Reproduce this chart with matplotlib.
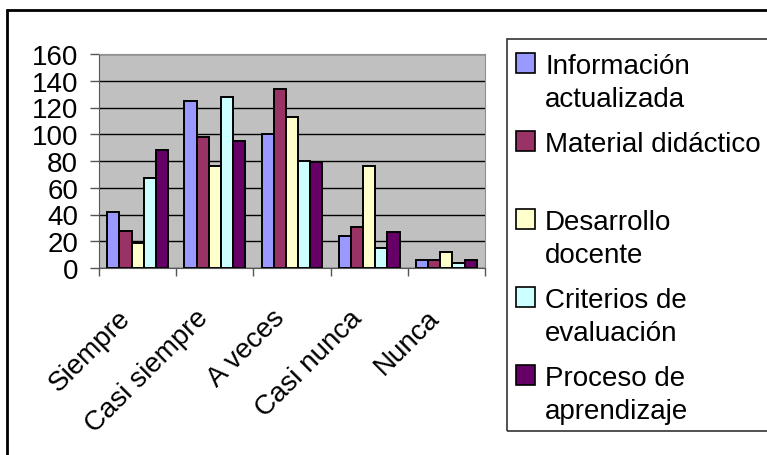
import matplotlib
matplotlib.use("Agg")
import matplotlib.pyplot as plt
import matplotlib.transforms as mtransforms
import numpy as np
from matplotlib.patches import Rectangle

plt.rcParams['font.family'] = ['Liberation Sans', 'DejaVu Sans']

categories = ["Siempre", "Casi siempre", "A veces", "Casi nunca", "Nunca"]
series_names = ["Información\nactualizada", "Material didáctico\n", "Desarrollo\ndocente",
                "Criterios de\nevaluación", "Proceso de\naprendizaje"]
informacion = [42, 125, 100, 24, 6]
material = [28, 98, 134, 31, 6]
desarrollo = [19, 76, 113, 76, 12]
criterios = [67, 128, 80, 15, 4]
proceso = [88, 95, 79, 27, 6]
colors = ["#9999FF", "#993366", "#FFFFCC", "#CCFFFF", "#660066"]

W, H = 767, 456


def fx(px):
    return px / W


def fy(py):
    return 1 - py / H


fig = plt.figure(figsize=(W / 100, H / 100), dpi=100)
ax = fig.add_axes([fx(99), fy(269), (485 - 99) / W, (269 - 55) / H])
ax.set_facecolor("#C0C0C0")

x = np.arange(len(categories))
bar_w = 0.157
all_series = [informacion, material, desarrollo, criterios, proceso]
for i, (vals, c) in enumerate(zip(all_series, colors)):
    ax.bar(x + (i - 2) * bar_w, vals, width=bar_w, color=c,
           edgecolor="black", linewidth=1.4)

ax.set_xlim(-0.5, len(categories) - 0.5)
ax.set_ylim(0, 160)
ax.set_yticks(range(0, 161, 20))
ax.yaxis.grid(True, color="black", linewidth=1)
ax.set_axisbelow(True)

# ticks at the category borders, labels in the middle
ax.set_xticks(np.arange(-0.5, len(categories), 1))
ax.set_xticklabels([])
ax.set_xticks(x, minor=True)
ax.set_xticklabels(categories, minor=True)
ax.tick_params(axis="x", which="major", length=6, width=1, color="#555555")
ax.tick_params(axis="x", which="minor", length=0, pad=30, labelsize=20)
# shift the slanted labels a bit to the left and down, like the original
shift = mtransforms.ScaledTranslation(-11 / 100, -4 / 100, fig.dpi_scale_trans)
for lbl in ax.get_xticklabels(minor=True):
    lbl.set_rotation(45)
    lbl.set_ha("right")
    lbl.set_va("center")
    lbl.set_rotation_mode("anchor")
    lbl.set_transform(lbl.get_transform() + shift)
ax.tick_params(axis="y", length=6.5, width=1, pad=8.5, labelsize=20, color="#555555")

ax.spines["left"].set_color("#555555")
ax.spines["bottom"].set_color("#555555")
ax.spines["top"].set_color("#909090")
ax.spines["right"].set_color("#909090")

# outer chart border (runs off the right and bottom edges)
fig.add_artist(Rectangle((fx(7), fy(470)), fx(800) - fx(7), fy(11) - fy(470),
                         transform=fig.transFigure, fill=False,
                         edgecolor="black", linewidth=2, clip_on=False))

# legend box drawn by hand so the swatch sits on the first text line
fig.add_artist(Rectangle((fx(507), fy(432)), fx(800) - fx(507), fy(40) - fy(432),
                         transform=fig.transFigure, fill=False,
                         edgecolor="#333333", linewidth=1.2, clip_on=False))
first_top = 54
entry_step = 78
line_step = 33
for i, (name, c) in enumerate(zip(series_names, colors)):
    top = first_top + i * entry_step
    fig.add_artist(Rectangle((fx(516), fy(top + 20)), fx(535) - fx(516), fy(top) - fy(top + 20),
                             transform=fig.transFigure, facecolor=c,
                             edgecolor="black", linewidth=1.2))
    for j, line in enumerate(name.split("\n")):
        if line:
            fig.text(fx(545), fy(top + j * line_step), line, ha="left", va="top", fontsize=20)

fig.savefig("out.png", dpi=100)
